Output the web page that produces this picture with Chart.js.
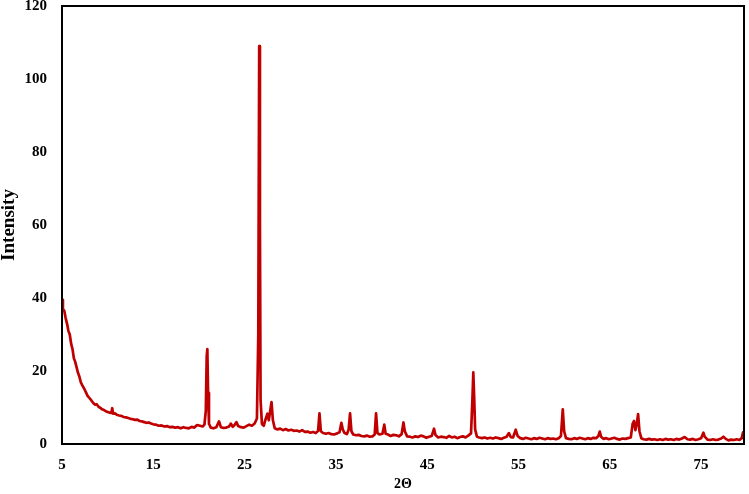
<!DOCTYPE html>
<html>
<head>
<meta charset="utf-8">
<script src="https://cdn.jsdelivr.net/npm/chart.js@4/dist/chart.umd.min.js"></script>
<style>
  html, body { margin: 0; padding: 0; background: #fff; }
  #graph-container { width: 749px; height: 494px; }
</style>
</head>
<body>
<div id="graph-container"><canvas id="xrd"></canvas></div>
<script>
// 2-theta positions (degrees) and intensities
const twoTheta = [
  5.0, 5.1, 5.25, 5.4, 5.55, 5.7, 5.85, 6.0, 6.15, 6.3, 6.45, 6.6, 6.75, 6.9, 7.05, 7.2, 7.35, 7.5, 7.65, 7.8,
  8.0, 8.2, 8.4, 8.6, 8.8, 9.0, 9.2, 9.4, 9.6, 9.8, 10.0, 10.2, 10.4, 10.5, 10.6, 10.8, 11.0, 11.25, 11.5, 11.75,
  12.0, 12.25, 12.5, 12.75, 13.0, 13.25, 13.5, 13.75, 14.0, 14.25, 14.5, 14.75, 15.0, 15.3, 15.6, 15.9, 16.2, 16.5, 16.8, 17.1,
  17.4, 17.7, 18.0, 18.3, 18.6, 18.9, 19.2, 19.5, 19.8, 20.1, 20.4, 20.6, 20.75, 20.85, 20.92, 21.0, 21.1, 21.3, 21.6, 21.9,
  22.2, 22.4, 22.7, 23.0, 23.3, 23.5, 23.7, 23.9, 24.1, 24.3, 24.6, 24.9, 25.2, 25.5, 25.8, 26.1, 26.35, 26.5, 26.6, 26.68,
  26.75, 26.9, 27.1, 27.3, 27.5, 27.65, 27.8, 27.95, 28.1, 28.3, 28.6, 28.9, 29.2, 29.5, 29.8, 30.1, 30.4, 30.7, 31.0, 31.3,
  31.6, 31.9, 32.2, 32.5, 32.8, 33.05, 33.2, 33.35, 33.6, 33.9, 34.2, 34.5, 34.8, 35.1, 35.4, 35.6, 35.75, 35.95, 36.2, 36.4,
  36.55, 36.7, 36.9, 37.2, 37.5, 37.8, 38.1, 38.4, 38.7, 39.0, 39.25, 39.4, 39.55, 39.8, 40.1, 40.3, 40.45, 40.7, 41.0, 41.3,
  41.6, 41.9, 42.2, 42.4, 42.55, 42.8, 43.1, 43.4, 43.7, 44.0, 44.3, 44.6, 44.9, 45.2, 45.5, 45.75, 45.9, 46.2, 46.5, 46.8,
  47.1, 47.4, 47.7, 48.0, 48.3, 48.6, 48.9, 49.2, 49.5, 49.8, 49.95, 50.05, 50.15, 50.25, 50.45, 50.7, 51.0, 51.3, 51.6, 51.9,
  52.2, 52.5, 52.8, 53.1, 53.4, 53.7, 53.95, 54.15, 54.4, 54.7, 54.9, 55.2, 55.5, 55.8, 56.1, 56.4, 56.7, 57.0, 57.3, 57.6,
  57.9, 58.2, 58.5, 58.8, 59.1, 59.4, 59.65, 59.85, 60.0, 60.2, 60.5, 60.8, 61.1, 61.4, 61.7, 62.0, 62.3, 62.6, 62.9, 63.2,
  63.5, 63.75, 63.9, 64.05, 64.3, 64.6, 64.9, 65.2, 65.5, 65.8, 66.1, 66.4, 66.7, 67.0, 67.3, 67.5, 67.65, 67.8, 67.95, 68.1,
  68.25, 68.45, 68.7, 69.0, 69.3, 69.6, 69.9, 70.2, 70.5, 70.8, 71.1, 71.4, 71.7, 72.0, 72.3, 72.6, 72.9, 73.2, 73.5, 73.8,
  74.1, 74.4, 74.7, 75.0, 75.25, 75.4, 75.7, 76.0, 76.3, 76.6, 76.9, 77.2, 77.45, 77.7, 78.0, 78.3, 78.6, 78.9, 79.2, 79.45,
  79.6, 79.7
];
const intensity = [
  39.5, 37, 36.5, 34.5, 33, 31, 30, 27.5, 26, 23.5, 22.5, 21, 19.5, 18.5, 17, 16.2, 15.5, 14.8, 14, 13.2,
  12.6, 12, 11.3, 10.8, 10.9, 10.2, 9.9, 9.5, 9.3, 9.0, 8.8, 8.6, 8.5, 9.8, 8.3, 8.4, 8.0, 7.8, 7.7, 7.4,
  7.3, 7.1, 6.9, 6.8, 6.6, 6.7, 6.3, 6.2, 6.0, 5.8, 5.9, 5.6, 5.4, 5.3, 5.0, 5.1, 4.8, 4.9, 4.6, 4.7,
  4.5, 4.6, 4.3, 4.6, 4.4, 4.3, 4.7, 4.5, 5.2, 5.0, 4.8, 5.3, 9, 24, 26, 14, 5.5, 4.5, 4.3, 4.6,
  6.2, 4.6, 4.4, 4.5, 4.8, 5.6, 4.7, 5.2, 6.0, 4.9, 4.6, 4.5, 4.9, 5.3, 5.0, 5.6, 7, 30, 109, 60,
  12, 5.5, 5.0, 6.8, 8.3, 6.5, 9.0, 11.5, 6.5, 4.3, 4.0, 4.2, 3.8, 4.1, 3.7, 3.9, 3.6, 3.7, 3.4, 3.8,
  3.3, 3.4, 3.1, 3.3, 3.0, 3.6, 8.4, 3.5, 3.0, 2.8, 3.0, 2.7, 2.6, 2.9, 3.2, 5.8, 4.0, 3.0, 2.7, 4.0,
  8.4, 3.5, 2.6, 2.4, 2.5, 2.2, 2.1, 2.3, 2.0, 2.1, 2.6, 8.4, 3.0, 2.6, 2.8, 5.3, 2.8, 2.6, 2.2, 2.5,
  2.4, 2.1, 2.7, 5.9, 3.5, 2.1, 2.0, 1.8, 2.1, 1.9, 2.3, 2.1, 1.7, 2.0, 2.2, 4.2, 2.5, 1.8, 2.0, 1.9,
  1.7, 2.2, 1.8, 2.0, 1.6, 1.9, 2.1, 1.8, 2.3, 2.9, 12, 19.6, 12.5, 4, 2.0, 1.8, 1.6, 1.8, 1.5, 1.7,
  1.5, 1.8, 1.6, 1.4, 1.7, 2.0, 3.0, 1.9, 1.8, 3.9, 2.2, 1.6, 1.4, 1.7, 1.5, 1.3, 1.6, 1.4, 1.7, 1.5,
  1.3, 1.6, 1.4, 1.5, 1.3, 1.6, 2.2, 9.5, 3.5, 1.6, 1.4, 1.3, 1.6, 1.4, 1.7, 1.5, 1.3, 1.6, 1.4, 1.7,
  1.6, 2.2, 3.4, 2.0, 1.4, 1.6, 1.3, 1.5, 1.7, 1.4, 1.2, 1.5, 1.4, 1.6, 1.8, 5.5, 6.3, 3.8, 5.5, 8.2,
  3.5, 1.6, 1.3, 1.2, 1.4, 1.2, 1.3, 1.1, 1.3, 1.1, 1.4, 1.2, 1.3, 1.1, 1.4, 1.2, 1.5, 1.9, 1.3, 1.2,
  1.4, 1.1, 1.3, 1.6, 3.1, 2.0, 1.2, 1.1, 1.3, 1.1, 1.2, 1.5, 2.0, 1.4, 1.0, 1.2, 1.1, 1.3, 1.1, 1.6,
  3.2, 1.8
];
const xTicks = [5, 15, 25, 35, 45, 55, 65, 75];
const yTicks = [0, 20, 40, 60, 80, 100, 120];

const serif = "'Liberation Serif', 'Times New Roman', serif";

// plain black frame round the plot area
const frame = {
  id: 'frame',
  afterDraw(chart) {
    const a = chart.chartArea;
    const c = chart.ctx;
    c.save();
    c.strokeStyle = '#000';
    c.lineWidth = 2;
    c.strokeRect(a.left, a.top, a.right - a.left, a.bottom - a.top);
    c.restore();
  }
};

const ctx = document.getElementById('xrd');
new Chart(ctx, {
  type: 'line',
  data: {
    datasets: [{
      data: twoTheta.map((x, i) => ({ x: x, y: intensity[i] })),
      borderColor: '#c00000',
      borderWidth: 2.7,
      borderJoinStyle: 'round',
      pointRadius: 0,
      fill: false,
      tension: 0
    }]
  },
  options: {
    responsive: true,
    maintainAspectRatio: false,
    animation: false,
    layout: { padding: { top: 6, right: 5, left: 0, bottom: 0 } },
    plugins: {
      legend: { display: false },
      tooltip: { enabled: false }
    },
    scales: {
      x: {
        type: 'linear',
        min: 5,
        max: 79.7,
        grid: { display: false, drawTicks: false },
        border: { display: false },
        afterBuildTicks: (s) => { s.ticks = xTicks.map(v => ({ value: v })); },
        afterFit: (s) => { s.height = 50; s.paddingLeft = 0; s.paddingRight = 0; },
        ticks: {
          color: '#000',
          padding: 12,
          maxRotation: 0,
          font: { family: serif, size: 15, weight: 'bold' }
        },
        title: {
          display: true,
          text: '2Θ',
          color: '#000',
          padding: { top: 0, bottom: 1 },
          font: { family: serif, size: 14, weight: 'bold' }
        }
      },
      y: {
        min: 0,
        max: 120,
        grid: { display: false, drawTicks: false },
        border: { display: false },
        afterBuildTicks: (s) => { s.ticks = yTicks.map(v => ({ value: v })); },
        afterFit: (s) => { s.width = 62; s.paddingTop = 0; s.paddingBottom = 0; },
        ticks: {
          color: '#000',
          padding: 15,
          font: { family: serif, size: 15, weight: 'bold' }
        },
        title: {
          display: true,
          text: 'Intensity',
          color: '#000',
          padding: 0,
          font: { family: serif, size: 19, weight: 'bold', lineHeight: 1 }
        }
      }
    }
  },
  plugins: [frame]
});
</script>
</body>
</html>
